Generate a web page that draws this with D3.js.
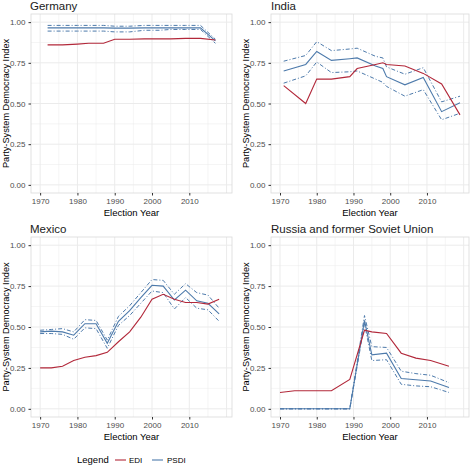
<!DOCTYPE html>
<html><head><meta charset="utf-8">
<script src="https://cdn.jsdelivr.net/npm/d3@7"></script>
<style>body{margin:0;background:#fff}text{font-family:"Liberation Sans",Arial,sans-serif}</style>
</head><body><svg id="c" width="474" height="467"></svg>
<script>
const titles=["Germany","India","Mexico","Russia and former Soviet Union"];
const years=[
[1972,1976,1980,1983,1987,1990,1994,1998,2002,2005,2009,2013,2017],
[1971,1977,1980,1984,1989,1991,1996,1998,1999,2004,2009,2014,2019],
[1970,1973,1976,1979,1982,1985,1988,1991,1994,1997,2000,2003,2006,2009,2012,2015,2018],
[1970,1974,1979,1984,1989,1993,1995,1999,2003,2007,2011,2016]];
const edi=[
[.86,.86,.865,.87,.87,.895,.895,.897,.897,.897,.90,.90,.89],
[.61,.50,.65,.65,.665,.715,.74,.75,.74,.73,.685,.62,.43],
[.25,.25,.26,.295,.315,.325,.345,.41,.47,.56,.67,.70,.67,.65,.65,.64,.67],
[.10,.11,.11,.11,.18,.48,.47,.46,.34,.31,.295,.26]];
const psdi=[
[.965,.965,.965,.965,.965,.963,.963,.965,.965,.965,.965,.965,.885],
[.70,.74,.82,.765,.775,.78,.73,.715,.665,.615,.66,.45,.505],
[.47,.475,.47,.45,.52,.52,.40,.535,.60,.68,.755,.75,.665,.725,.66,.645,.58],
[0,0,0,0,0,.54,.33,.34,.185,.178,.17,.13]];
const upper=[
[.98,.98,.98,.98,.98,.975,.975,.98,.98,.98,.98,.98,.895],
[.76,.795,.88,.825,.835,.84,.79,.78,.725,.68,.72,.51,.545],
[.48,.485,.49,.47,.545,.54,.42,.565,.63,.71,.79,.785,.70,.765,.71,.695,.615],
[0,0,0,0,0,.57,.38,.375,.23,.215,.205,.16]];
const lower=[
[.945,.945,.945,.945,.945,.94,.94,.95,.95,.955,.955,.955,.87],
[.625,.67,.755,.69,.695,.70,.65,.63,.605,.545,.585,.40,.44],
[.46,.46,.455,.425,.495,.49,.37,.51,.57,.645,.72,.71,.61,.68,.615,.605,.535],
[0,0,0,0,0,.52,.295,.30,.15,.14,.135,.10]];
const xTicks=[1970,1980,1990,2000,2010];
const yTicks=[0,.25,.5,.75,1];
const svg=d3.select("#c");
const red="#b2283a",blue="#4d7aab";
const panels=[{x:31,y:14,w:201,h:179},{x:271,y:14,w:198,h:179},{x:31,y:237,w:201,h:180},{x:271,y:237,w:198,h:180}];
panels.forEach((p,i)=>{
  const x=d3.scaleLinear().domain([1967.55,2021.45]).range([p.x,p.x+p.w]);
  const y=d3.scaleLinear().domain([-0.05,1.05]).range([p.y+p.h,p.y]);
  const g=svg.append("g");
  d3.range(1965,2025,5).forEach(v=>{if(v>1967&&v<2021)g.append("line").attr("x1",x(v)).attr("x2",x(v)).attr("y1",p.y).attr("y2",p.y+p.h).attr("stroke","#ebebeb").attr("stroke-width",v%10?0.5:1);});
  d3.range(0,1.01,0.125).forEach(v=>g.append("line").attr("y1",y(v)).attr("y2",y(v)).attr("x1",p.x).attr("x2",p.x+p.w).attr("stroke","#ebebeb").attr("stroke-width",(v*8)%2?0.5:1));
  g.append("rect").attr("x",p.x).attr("y",p.y).attr("width",p.w).attr("height",p.h).attr("fill","none").attr("stroke","#d9d9d9").attr("stroke-width",0.8);
  const ax=g.append("g").attr("transform",`translate(0,${p.y+p.h})`).call(d3.axisBottom(x).tickValues(xTicks).tickFormat(d3.format("d")).tickSize(2.5));
  const ay=g.append("g").attr("transform",`translate(${p.x},0)`).call(d3.axisLeft(y).tickValues(yTicks).tickFormat(d3.format(".2f")).tickSize(2.5));
  [ax,ay].forEach(a=>{a.select(".domain").remove();a.selectAll("line").attr("stroke","#333");a.selectAll("text").attr("fill","#4d4d4d").style("font-size","8px");});
  g.append("text").attr("x",p.x+(i%2?0:-1)).attr("y",p.y-4).text(titles[i]).style("font-size","11.5px").attr("fill","#1a1a1a");
  g.append("text").attr("x",p.x+p.w/2).attr("y",p.y+p.h+23).attr("text-anchor","middle").text("Election Year").style("font-size","9.5px");
  g.append("text").attr("transform",`translate(${p.x-22},${p.y+p.h/2}) rotate(-90)`).attr("text-anchor","middle").text("Party-System Democracy Index").style("font-size","9.2px");
  const line=arr=>d3.line().x((d,j)=>x(years[i][j])).y(d=>y(d))(arr);
  [upper[i],lower[i]].forEach(a=>g.append("path").attr("d",line(a)).attr("fill","none").attr("stroke",blue).attr("stroke-width",1).attr("stroke-dasharray","4,2,1,2"));
  g.append("path").attr("d",line(psdi[i])).attr("fill","none").attr("stroke",blue).attr("stroke-width",1.1);
  g.append("path").attr("d",line(edi[i])).attr("fill","none").attr("stroke",red).attr("stroke-width",1.1);
});
const lg=svg.append("g");
lg.append("text").attr("x",77).attr("y",463).text("Legend").style("font-size","9.5px");
lg.append("line").attr("x1",115).attr("x2",126).attr("y1",460).attr("y2",460).attr("stroke",red).attr("stroke-width",1.1);
lg.append("text").attr("x",129).attr("y",463).text("EDI").style("font-size","8px");
lg.append("line").attr("x1",152).attr("x2",163).attr("y1",460).attr("y2",460).attr("stroke",blue).attr("stroke-width",1.1);
lg.append("text").attr("x",167).attr("y",463).text("PSDI").style("font-size","8px");
</script></body></html>
